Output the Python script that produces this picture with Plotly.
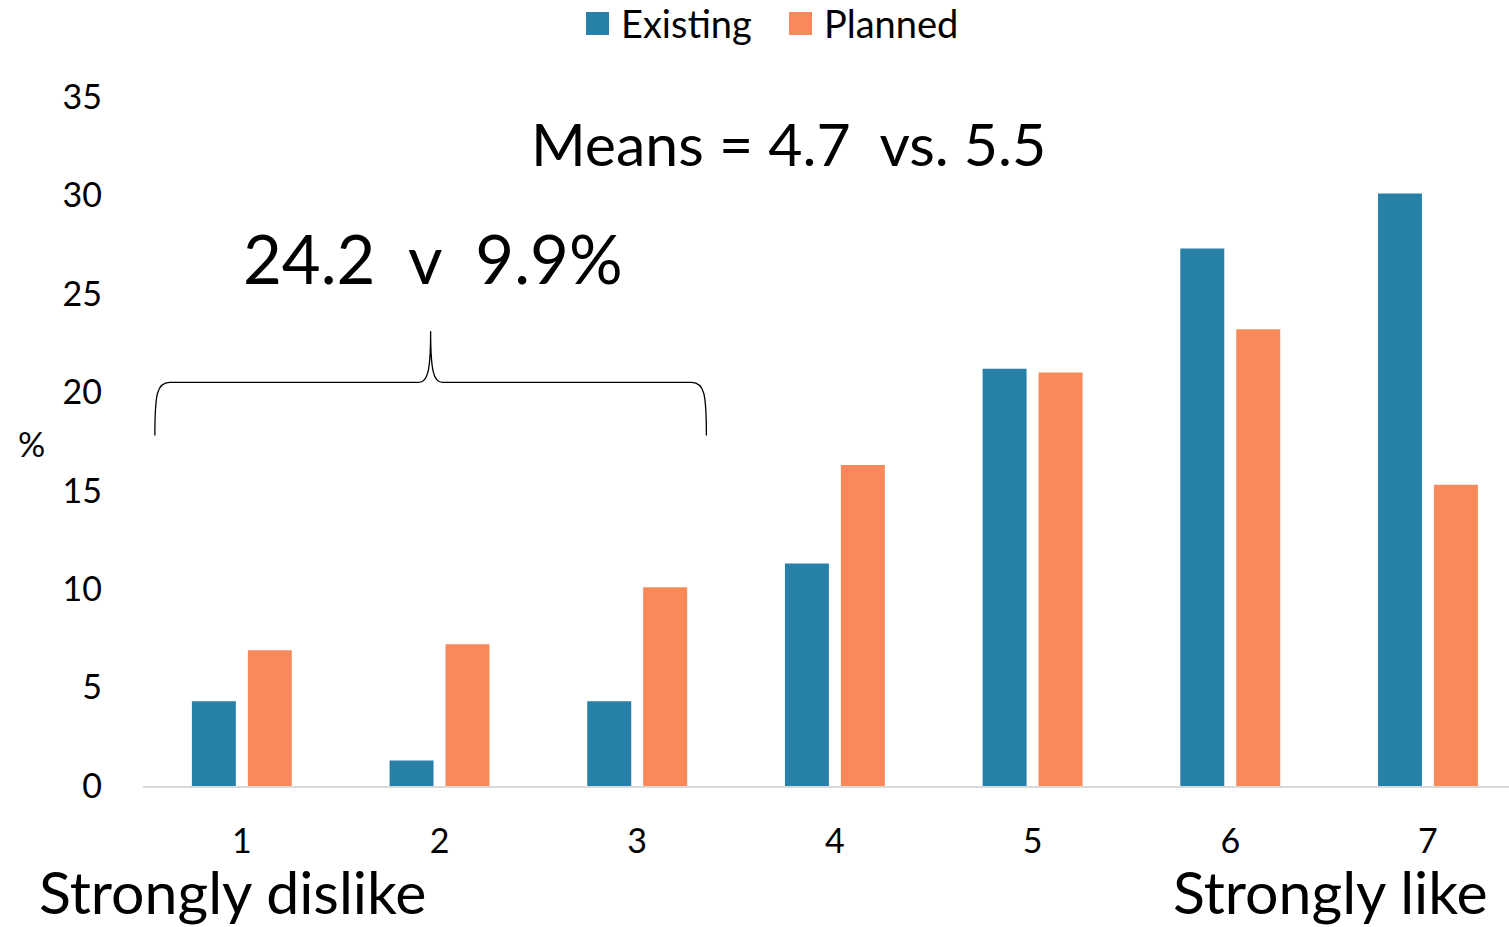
import plotly.graph_objects as go

# Rating scale 1..7 and share of respondents (%) per rating
ratings = [1, 2, 3, 4, 5, 6, 7]
existing = [4.3, 1.3, 4.3, 11.3, 21.2, 27.3, 30.1]
planned = [6.9, 7.2, 10.1, 16.3, 21.0, 23.2, 15.3]
series_names = ["Existing", "Planned"]
y_ticks = [0, 5, 10, 15, 20, 25, 30, 35]

BLUE = "#2680A8"
ORANGE = "#F7895A"
FONT = "Lato, 'Open Sans', sans-serif"

fig = go.Figure()
fig.add_trace(go.Bar(x=ratings, y=existing, name=series_names[0], marker_color=BLUE,
                     marker_line_width=0, showlegend=False))
fig.add_trace(go.Bar(x=ratings, y=planned, name=series_names[1], marker_color=ORANGE,
                     marker_line_width=0, showlegend=False))

# Legend drawn as coloured squares plus labels above the plot (pixel-based paper coords)
L, T, B = 143, 97, 141
PW, PH = 1509 - L, 927 - T - B


def px(xp):
    return (xp - L) / PW


def py(yp):
    return (T + PH - yp) / PH


for name, color, x0 in [(series_names[0], BLUE, 586), (series_names[1], ORANGE, 789)]:
    fig.add_shape(type="rect", xref="paper", yref="paper",
                  x0=px(x0), x1=px(x0 + 23), y0=py(35), y1=py(12),
                  fillcolor=color, line_width=0)
    fig.add_annotation(x=px(x0 + 33), y=py(23), xref="paper", yref="paper",
                       xanchor="left", yanchor="middle", showarrow=False,
                       text=name, font=dict(size=38, color="black", family=FONT))

# Curly brace spanning ratings 1-3
xl, xr = 0.56, 3.35
xm = (xl + xr) / 2
yb, yh, yt = 17.8, 20.5, 23.1
dx = 0.075
brace = (
    f"M {xl},{yb} C {xl},{yh-0.6} {xl+0.01},{yh} {xl+dx},{yh} "
    f"L {xm-0.06},{yh} C {xm-0.015},{yh} {xm},{yh+0.6} {xm},{yt} "
    f"C {xm},{yh+0.6} {xm+0.015},{yh} {xm+0.06},{yh} "
    f"L {xr-dx},{yh} C {xr-0.01},{yh} {xr},{yh-0.6} {xr},{yb}"
)
fig.add_shape(type="path", path=brace, xref="x", yref="y",
              line=dict(color="black", width=1.3))

fig.add_annotation(x=3.765, y=32.66, xref="x", yref="y", showarrow=False,
                   text="Means = 4.7  vs. 5.5", font=dict(size=59, color="black", family=FONT))
fig.add_annotation(x=1.966, y=26.8, xref="x", yref="y", showarrow=False,
                   text="24.2  v  9.9%", font=dict(size=67, color="black", family=FONT))
fig.add_annotation(x=px(31), y=py(443), xref="paper", yref="paper", showarrow=False,
                   xanchor="center", yanchor="middle",
                   text="%", font=dict(size=34, color="black", family=FONT))
fig.add_annotation(x=px(37), y=py(891), xref="paper", yref="paper", showarrow=False,
                   xanchor="left", yanchor="middle",
                   text="Strongly dislike", font=dict(size=59, color="black", family=FONT))
fig.add_annotation(x=px(1490), y=py(891), xref="paper", yref="paper", showarrow=False,
                   xanchor="right", yanchor="middle",
                   text="Strongly like", font=dict(size=59, color="black", family=FONT))

fig.update_layout(
    width=1509, height=927,
    margin=dict(l=L, r=0, t=T, b=B, autoexpand=False),
    paper_bgcolor="white", plot_bgcolor="white",
    barmode="group", bargap=0.434, bargroupgap=0.214,
    font=dict(family=FONT, color="black"),
    showlegend=False,
    xaxis=dict(range=[0.5, 7.41], tickvals=ratings, showgrid=False, zeroline=False,
               showline=True, linecolor="#D9D9D9", linewidth=2, ticks="",
               tickfont=dict(size=34), ticklabelstandoff=24),
    yaxis=dict(range=[0, 35], tickvals=y_ticks, showgrid=False, zeroline=False,
               showline=False, ticks="", tickfont=dict(size=34), ticklabelstandoff=40),
)

fig.write_html("out.html")
